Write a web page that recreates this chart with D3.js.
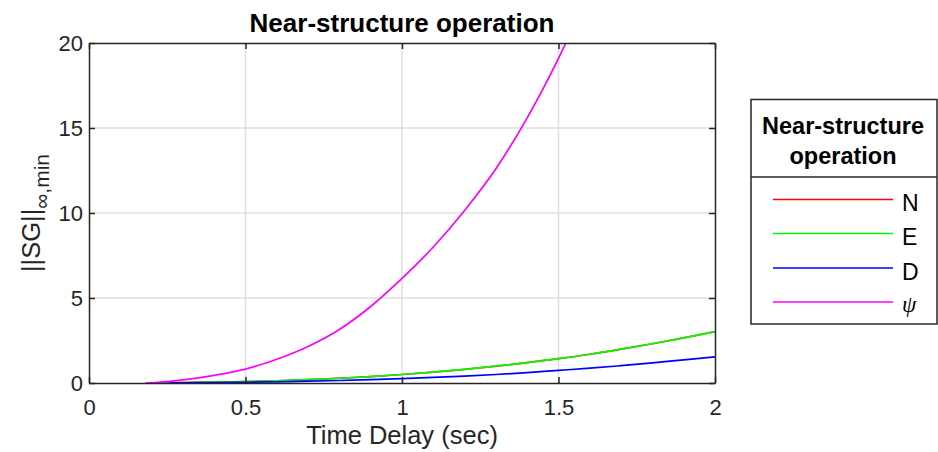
<!DOCTYPE html>
<html>
<head>
<meta charset="utf-8">
<script src="https://cdn.jsdelivr.net/npm/d3@7"></script>
<style>
  html, body { margin: 0; padding: 0; background: #fff; }
  svg { display: block; font-family: "Liberation Sans", Arial, Helvetica, sans-serif; }
</style>
</head>
<body>
<svg id="chart" width="938" height="452"></svg>
<script>
// ---- data ----
const timeDelay = [0.18, 0.22, 0.25, 0.3, 0.4, 0.5, 0.6, 0.7, 0.8, 0.9, 1.0, 1.1, 1.2, 1.3, 1.4, 1.5, 1.6, 1.7, 1.8, 1.9, 2.0];
const seriesN   = [null, 0, 0.01, 0.022, 0.046, 0.082, 0.133, 0.198, 0.28, 0.38, 0.5, 0.64, 0.8, 0.99, 1.2, 1.43, 1.69, 1.99, 2.31, 2.65, 3.02];
const seriesE   = [null, 0, 0.01, 0.022, 0.046, 0.082, 0.133, 0.198, 0.28, 0.38, 0.5, 0.64, 0.8, 0.99, 1.2, 1.43, 1.69, 1.99, 2.31, 2.65, 3.02];
const seriesD   = [null, null, 0, 0.011, 0.024, 0.045, 0.071, 0.105, 0.146, 0.2, 0.26, 0.33, 0.41, 0.5, 0.61, 0.74, 0.87, 1.02, 1.18, 1.36, 1.54];
const seriesPsi = [0, 0.04, 0.08, 0.18, 0.45, 0.82, 1.4, 2.15, 3.15, 4.5, 6.15, 8.0, 10.15, 12.6, 15.6, 19.1, 23.1, 27.5, 32.5, 38, 44];
const seriesNames = ["N", "E", "D", "\u03C8"];
const seriesColors = ["#ff0000", "#00ff00", "#0000ff", "#ff00ff"];
const xTicks = [0, 0.5, 1, 1.5, 2];
const yTicks = [0, 5, 10, 15, 20];
const chartTitle = "Near-structure operation";
const legendTitle = ["Near-structure", "operation"];

const allSeries = [seriesN, seriesE, seriesD, seriesPsi];

// ---- layout ----
const svg = d3.select("#chart");
const pL = 89, pR = 715, pT = 43, pB = 383;
const axisColor = "#262626";

const x = d3.scaleLinear().domain([0, 2]).range([pL, pR]);
const y = d3.scaleLinear().domain([0, 20]).range([pB, pT]);

// grid
const grid = svg.append("g");
grid.selectAll(".gx").data(xTicks.slice(1, -1)).enter().append("line")
  .attr("x1", d => x(d)).attr("x2", d => x(d)).attr("y1", pT).attr("y2", pB)
  .attr("stroke", "#dfdfdf").attr("stroke-width", 1.5);
grid.selectAll(".gy").data(yTicks.slice(1, -1)).enter().append("line")
  .attr("y1", d => y(d)).attr("y2", d => y(d)).attr("x1", pL).attr("x2", pR)
  .attr("stroke", "#dfdfdf").attr("stroke-width", 1.5);

// clip
svg.append("clipPath").attr("id", "plotclip").append("rect")
  .attr("x", pL).attr("y", pT).attr("width", pR - pL).attr("height", pB - pT);

// lines
const lineGen = d3.line()
  .defined(d => d[1] !== null)
  .x(d => x(d[0])).y(d => y(d[1]))
  .curve(d3.curveMonotoneX);

const lines = svg.append("g").attr("clip-path", "url(#plotclip)");
allSeries.forEach((s, i) => {
  lines.append("path")
    .datum(timeDelay.map((t, j) => [t, s[j]]))
    .attr("d", lineGen)
    .attr("fill", "none")
    .attr("stroke", seriesColors[i])
    .attr("stroke-width", 1.7);
});

// axes (MATLAB-style box with inward ticks on all sides)
const tickLen = 6;
const tickFont = 22;
const xAxisB = d3.axisBottom(x).tickValues(xTicks).tickFormat(d3.format("")).tickSizeInner(-tickLen).tickSizeOuter(0).tickPadding(16);
const xAxisT = d3.axisTop(x).tickValues(xTicks).tickFormat("").tickSizeInner(-tickLen).tickSizeOuter(0);
const yAxisL = d3.axisLeft(y).tickValues(yTicks).tickSizeInner(-tickLen).tickSizeOuter(0).tickPadding(6);
const yAxisR = d3.axisRight(y).tickValues(yTicks).tickFormat("").tickSizeInner(-tickLen).tickSizeOuter(0);

function styleAxis(g) {
  g.select(".domain").attr("stroke", axisColor).attr("stroke-width", 1.5);
  g.selectAll(".tick line").attr("stroke", axisColor).attr("stroke-width", 1.5);
  g.selectAll(".tick text").attr("fill", "#262626").style("font-size", tickFont + "px")
    .style("font-family", "'Liberation Sans', Arial, sans-serif");
}
svg.append("g").attr("transform", `translate(0,${pB})`).call(xAxisB).call(styleAxis);
svg.append("g").attr("transform", `translate(0,${pT})`).call(xAxisT).call(styleAxis);
svg.append("g").attr("transform", `translate(${pL},0)`).call(yAxisL).call(styleAxis);
svg.append("g").attr("transform", `translate(${pR},0)`).call(yAxisR).call(styleAxis);

// title
svg.append("text")
  .attr("x", (pL + pR) / 2).attr("y", 31.5)
  .attr("text-anchor", "middle")
  .style("font-size", "26px").style("font-weight", "bold").attr("fill", "#000")
  .text(chartTitle);

// x label
svg.append("text")
  .attr("x", (pL + pR) / 2).attr("y", 443.5)
  .attr("text-anchor", "middle")
  .style("font-size", "25.5px").attr("fill", "#262626")
  .text("Time Delay (sec)");

// y label
const yl = svg.append("text")
  .attr("transform", `translate(40,${(pT + pB) / 2}) rotate(-90)`)
  .attr("text-anchor", "middle")
  .style("font-size", "25.5px").attr("fill", "#262626");
yl.append("tspan").text("||SG||");
yl.append("tspan").attr("dy", 9).style("font-size", "21px").text("\u221E,min");

// legend
const lg = svg.append("g");
const lgX = 751, lgY = 99.5, lgW = 186, lgH = 224.5, sepY = 177;
lg.append("rect").attr("x", lgX).attr("y", lgY).attr("width", lgW).attr("height", lgH)
  .attr("fill", "#fff").attr("stroke", axisColor).attr("stroke-width", 1.5);
lg.append("line").attr("x1", lgX).attr("x2", lgX + lgW).attr("y1", sepY).attr("y2", sepY)
  .attr("stroke", axisColor).attr("stroke-width", 1.5);
legendTitle.forEach((t, i) => {
  lg.append("text").attr("x", lgX + lgW / 2 - 1).attr("y", 133.5 + i * 30)
    .attr("text-anchor", "middle").style("font-size", "23.5px").style("font-weight", "bold")
    .attr("fill", "#000").text(t);
});
const entryY = [199.5, 233.5, 268, 302];
seriesNames.forEach((name, i) => {
  lg.append("line").attr("x1", 773).attr("x2", 893).attr("y1", entryY[i]).attr("y2", entryY[i])
    .attr("stroke", seriesColors[i]).attr("stroke-width", 1.7);
  const t = lg.append("text").attr("x", 902).attr("y", entryY[i] + 11.5)
    .style("font-size", "23px").attr("fill", "#000").text(name);
  if (i === 3) {
    t.style("font-family", "'Liberation Serif', 'DejaVu Serif', serif").style("font-style", "italic")
      .style("font-size", "23px").attr("y", entryY[i] + 10);
  }
});
</script>
</body>
</html>
